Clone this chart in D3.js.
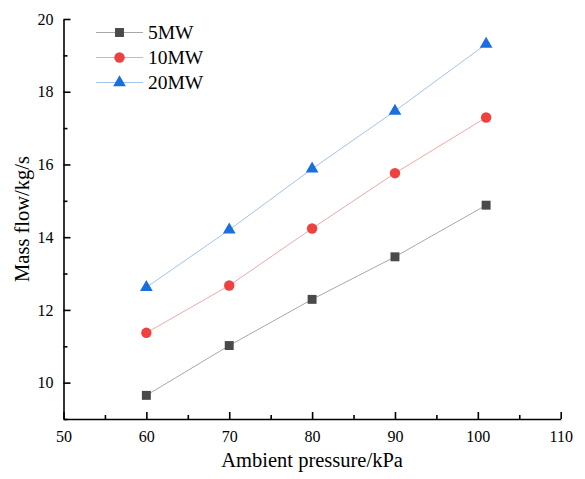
<!DOCTYPE html>
<html><head><meta charset="utf-8">
<script src="https://cdn.jsdelivr.net/npm/d3@7"></script>
<style>body{margin:0;background:#fff}svg{display:block}</style>
</head><body>
<svg id="c" width="585" height="479"></svg>
<script>
const pressure = [60, 70, 80, 90, 101];
const mw5 = [9.65, 11.02, 12.29, 13.46, 14.88];
const mw10 = [11.37, 12.67, 14.24, 15.76, 17.29];
const mw20 = [12.62, 14.20, 15.88, 17.47, 19.31];
const seriesNames = ["5MW", "10MW", "20MW"];
const xTicks = [50, 60, 70, 80, 90, 100, 110];
const yTicks = [10, 12, 14, 16, 18, 20];

const series = [
  {name: seriesNames[0], values: mw5, color: "#4a4a4a", line: "#a8a8a8", shape: d3.symbolSquare, size: 80},
  {name: seriesNames[1], values: mw10, color: "#f04040", line: "#f6a6a6", shape: d3.symbolCircle, size: 85},
  {name: seriesNames[2], values: mw20, color: "#1a6fdf", line: "#a3c3ef", shape: d3.symbolTriangle, size: 70}
];

const svg = d3.select("#c");
const L = 63.5, R = 560.7, T = 19, B = 419;
const x = d3.scaleLinear().domain([50, 110]).range([L, R]);
const y = d3.scaleLinear().domain([9, 20]).range([B, T]);
const font = "'Liberation Serif','Times New Roman',serif";

// minor ticks
const gx = svg.append("g").attr("transform", `translate(0,${B})`);
gx.call(d3.axisBottom(x).tickValues(d3.range(55, 110, 10)).tickSize(-4).tickFormat(""));
gx.call(g => g.select(".domain").remove());
const gx2 = svg.append("g").attr("transform", `translate(0,${B})`)
  .call(d3.axisBottom(x).tickValues(xTicks).tickSize(-7).tickSizeOuter(0).tickPadding(12).tickFormat(d3.format("d")));
const gy0 = svg.append("g").attr("transform", `translate(${L},0)`);
gy0.call(d3.axisLeft(y).tickValues(d3.range(9, 20, 2)).tickSize(-4).tickFormat(""));
gy0.call(g => g.select(".domain").remove());
const gy = svg.append("g").attr("transform", `translate(${L},0)`)
  .call(d3.axisLeft(y).tickValues(yTicks).tickSize(-7).tickSizeOuter(0).tickPadding(10).tickFormat(d3.format("d")));

svg.selectAll(".domain").attr("stroke", "#000").attr("stroke-width", 1.6);
svg.selectAll(".tick line").attr("stroke", "#000").attr("stroke-width", 1.6);
svg.selectAll(".tick text").attr("font-family", font).attr("font-size", 16).attr("fill", "#000");

// lines and markers
series.forEach(s => {
  const pts = pressure.map((p, i) => [p, s.values[i]]);
  svg.append("path").datum(pts)
    .attr("fill", "none").attr("stroke", s.line).attr("stroke-width", 1)
    .attr("d", d3.line().x(d => x(d[0])).y(d => y(d[1])));
  svg.selectAll(null).data(pts).enter().append("path")
    .attr("transform", d => `translate(${x(d[0])},${y(d[1])})`)
    .attr("d", d3.symbol().type(s.shape).size(s.size))
    .attr("fill", s.color);
});

// legend
series.forEach((s, i) => {
  const ly = 32.5 + i * 25;
  svg.append("line").attr("x1", 96).attr("x2", 143).attr("y1", ly).attr("y2", ly)
    .attr("stroke", s.line).attr("stroke-width", 1);
  svg.append("path").attr("transform", `translate(119.5,${ly})`)
    .attr("d", d3.symbol().type(s.shape).size(s.size)).attr("fill", s.color);
  svg.append("text").attr("x", 148).attr("y", ly + 6.5).text(s.name)
    .attr("font-family", font).attr("font-size", 19.5).attr("fill", "#000");
});

// axis titles
svg.append("text").attr("x", (L + R) / 2).attr("y", 467).attr("text-anchor", "middle")
  .attr("font-family", font).attr("font-size", 20.5).text("Ambient pressure/kPa");
svg.append("text").attr("transform", `translate(29,${(T + B) / 2}) rotate(-90)`).attr("text-anchor", "middle")
  .attr("font-family", font).attr("font-size", 20.5).text("Mass flow/kg/s");
</script>
</body></html>
